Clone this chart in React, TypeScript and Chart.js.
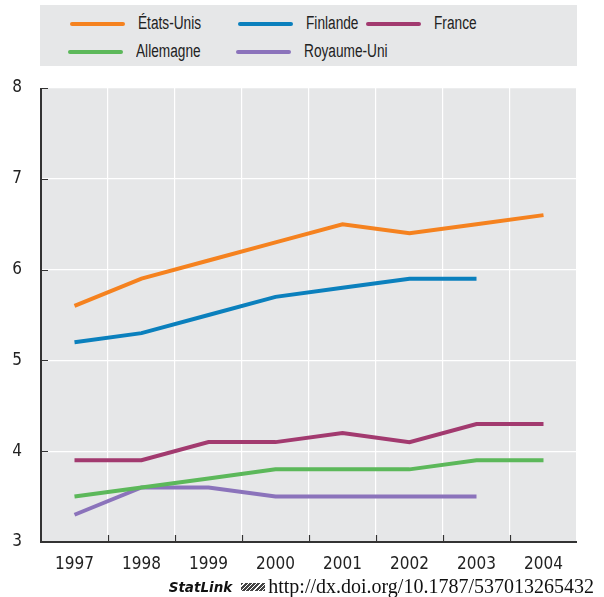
import React, { useEffect, useRef } from "react";
import { Chart, registerables } from "chart.js";

Chart.register(...registerables);

const years = ["1997", "1998", "1999", "2000", "2001", "2002", "2003", "2004"];
const etatsUnis = [5.6, 5.9, 6.1, 6.3, 6.5, 6.4, 6.5, 6.6];
const finlande = [5.2, 5.3, 5.5, 5.7, 5.8, 5.9, 5.9, null];
const france = [3.9, 3.9, 4.1, 4.1, 4.2, 4.1, 4.3, 4.3];
const allemagne = [3.5, 3.6, 3.7, 3.8, 3.8, 3.8, 3.9, 3.9];
const royaumeUni = [3.3, 3.6, 3.6, 3.5, 3.5, 3.5, 3.5, null];

const seriesNames = ["États-Unis", "Finlande", "France", "Allemagne", "Royaume-Uni"];
const seriesColors = ["#f5821f", "#0b80bd", "#a23a6f", "#5cb85a", "#8b73bb"];
const seriesData = [etatsUnis, finlande, france, allemagne, royaumeUni];

const FONT = "'Liberation Sans Narrow', 'Arial Narrow', 'DejaVu Sans Condensed', sans-serif";

const bgPlugin = {
  id: "bgPlugin",
  beforeDraw(chart: any) {
    const { ctx, chartArea } = chart;
    ctx.save();
    ctx.fillStyle = "#e6e7e8";
    ctx.fillRect(chartArea.left, chartArea.top, chartArea.right - chartArea.left, chartArea.bottom - chartArea.top);
    ctx.restore();
  },
  afterDatasetsDraw(chart: any) {
    const { ctx, chartArea, scales } = chart;
    const x = scales.x;
    const y = scales.y;
    ctx.save();
    ctx.strokeStyle = "#333333";
    ctx.lineWidth = 1.2;
    ctx.beginPath();
    y.ticks.forEach((_t: any, i: number) => {
      const py = Math.round(y.getPixelForTick(i)) + 0.5;
      ctx.moveTo(chartArea.left, py);
      ctx.lineTo(chartArea.left + 7, py);
    });
    for (let i = 1; i < years.length; i++) {
      const px = Math.round((x.getPixelForValue(i - 1) + x.getPixelForValue(i)) / 2) + 0.5;
      ctx.moveTo(px, chartArea.bottom);
      ctx.lineTo(px, chartArea.bottom - 7);
    }
    ctx.stroke();
    ctx.lineWidth = 2;
    ctx.beginPath();
    ctx.moveTo(chartArea.left, chartArea.top);
    ctx.lineTo(chartArea.left, chartArea.bottom);
    ctx.lineTo(chartArea.right, chartArea.bottom);
    ctx.stroke();
    ctx.restore();
  },
};

export default function App() {
  const ref = useRef<HTMLCanvasElement | null>(null);
  useEffect(() => {
    document.body.style.margin = "0";
    if (!ref.current) return;
    const chart = new Chart(ref.current, {
      type: "line",
      data: {
        labels: years,
        datasets: seriesData.map((d, i) => ({
          label: seriesNames[i],
          data: d,
          borderColor: seriesColors[i],
          backgroundColor: seriesColors[i],
          borderWidth: 4,
          pointRadius: 0,
          tension: 0,
          spanGaps: false,
        })),
      },
      options: {
        animation: false,
        responsive: false,
        devicePixelRatio: 1,
        layout: { padding: { left: 0, top: 88, right: 27, bottom: 0 } },
        plugins: { legend: { display: false }, tooltip: { enabled: false } },
        scales: {
          x: {
            offset: true,
            grid: { offset: true, color: "#ffffff", lineWidth: 1.2, drawTicks: false },
            border: { display: false },
            ticks: { color: "#222", font: { family: FONT, size: 17 }, padding: 12, maxRotation: 0 },
            afterFit(scale: any) {
              scale.height = 597 - 542;
            },
          },
          y: {
            min: 3,
            max: 8,
            grid: { color: "#ffffff", lineWidth: 1.2, drawTicks: false },
            border: { display: false },
            ticks: { stepSize: 1, color: "#222", font: { family: FONT, size: 17 }, padding: 19 },
            afterFit(scale: any) {
              scale.width = 41;
            },
          },
        },
      },
      plugins: [bgPlugin],
    });
    return () => chart.destroy();
  }, []);

  const legendItem = (i: number, left: number, top: number) => (
    <div key={i} style={{ position: "absolute", left, top, display: "flex", alignItems: "center" }}>
      <div style={{ width: 55, height: 4, borderRadius: 2, background: seriesColors[i], marginRight: 13 }} />
      <span
        style={{
          fontFamily: "'Liberation Sans', Arial, sans-serif",
          fontSize: 18,
          color: "#222",
          display: "inline-block",
          transform: "scaleX(0.76)",
          transformOrigin: "left center",
        }}
      >
        {seriesNames[i]}
      </span>
    </div>
  );

  return (
    <div style={{ position: "relative", width: 604, height: 597, background: "#fff" }}>
      <canvas ref={ref} width={604} height={597} style={{ position: "absolute", left: 0, top: 0 }} />
      <div style={{ position: "absolute", left: 40, top: 5, width: 537, height: 61, background: "#e6e7e8" }}>
        {legendItem(0, 30, 8)}
        {legendItem(1, 198, 8)}
        {legendItem(2, 326, 8)}
        {legendItem(3, 28, 36)}
        {legendItem(4, 196, 36)}
      </div>
      <div
        style={{
          position: "absolute",
          right: 10,
          top: 575,
          color: "#111",
          whiteSpace: "nowrap",
          display: "flex",
          alignItems: "center",
        }}
      >
        <span style={{ fontFamily: "'DejaVu Sans', sans-serif", fontStyle: "italic", fontWeight: "bold", fontSize: 13.5, marginRight: 9 }}>
          StatLink
        </span>
        <span
          style={{
            display: "inline-block",
            width: 24,
            height: 8,
            background: "repeating-linear-gradient(135deg, #444 0 2px, #fff 2px 3px)",
            marginRight: 3,
          }}
        />
        <span style={{ fontFamily: "'Liberation Serif', serif", fontSize: 20 }}>http://dx.doi.org/10.1787/537013265432</span>
      </div>
    </div>
  );
}
